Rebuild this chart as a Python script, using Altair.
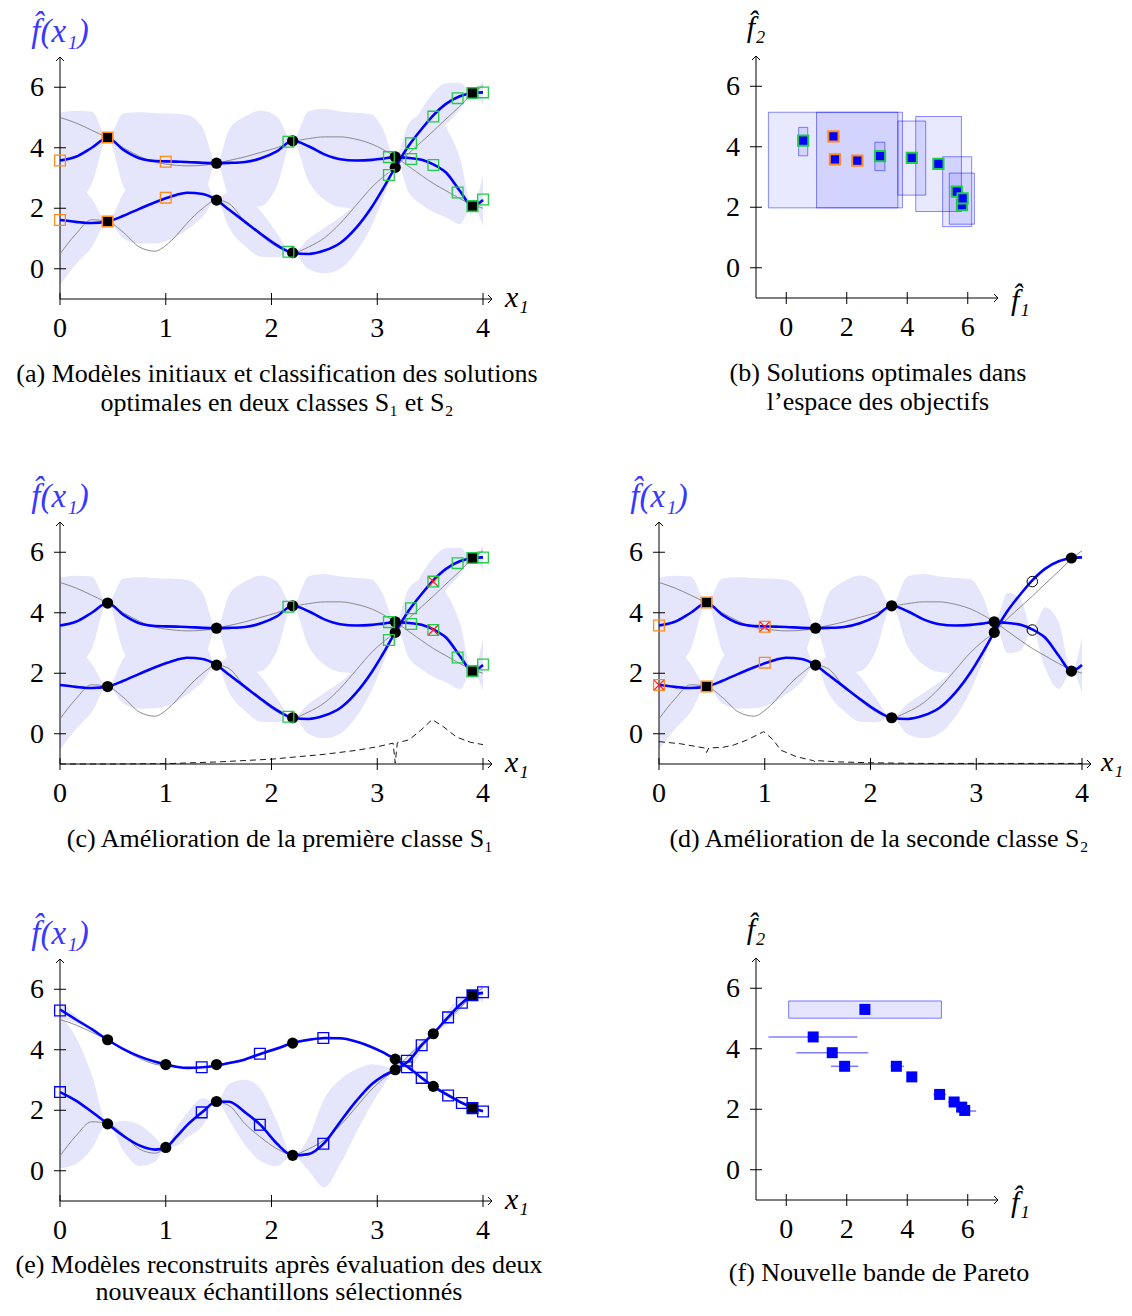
import altair as alt
import pandas as pd

# ---------------- data ----------------
X_GRID = [0.0, 0.15, 0.3, 0.45, 0.6, 0.75, 0.9, 1.0, 1.1, 1.2, 1.35, 1.48, 1.6, 1.75, 1.9, 2.05,
          2.2, 2.35, 2.5, 2.65, 2.8, 2.95, 3.05, 3.17, 3.3, 3.42, 3.53, 3.65, 3.78, 3.9, 4.0]
TRUE_F1 = [0.49, 1.15, 1.62, 1.56, 1.2, 0.72, 0.58, 0.77, 1.1, 1.5, 2.0, 2.27, 2.15, 1.55, 1.1, 0.73,
           0.53, 0.72, 1.02, 1.5, 2.1, 2.7, 3.02, 3.35, 3.82, 4.2, 4.55, 4.95, 5.37, 5.78, 6.05]
TRUE_F2 = [5.0, 4.82, 4.58, 4.32, 4.0, 3.72, 3.52, 3.46, 3.42, 3.40, 3.42, 3.49, 3.58, 3.70, 3.85, 4.0,
           4.2, 4.3, 4.36, 4.36, 4.28, 4.12, 3.95, 3.70, 3.38, 3.08, 2.82, 2.58, 2.32, 2.12, 2.0]

MEAN_F1_A = [1.61, 1.55, 1.51, 1.56, 1.75, 1.98, 2.20, 2.33, 2.44, 2.51, 2.47, 2.27, 1.95, 1.55, 1.15, 0.78,
             0.53, 0.49, 0.60, 0.85, 1.35, 2.05, 2.62, 3.35, 4.08, 4.62, 5.07, 5.45, 5.70, 5.81, 5.83]
MEAN_F2_A = [3.58, 3.70, 4.00, 4.32, 3.93, 3.65, 3.56, 3.55, 3.54, 3.53, 3.50, 3.49, 3.50, 3.53, 3.65, 3.88,
             4.23, 4.05, 3.78, 3.62, 3.58, 3.60, 3.64, 3.69, 3.66, 3.60, 3.45, 3.18, 2.58, 2.07, 2.27]
HALF_F1_A = [2.14, 1.4, 0.8, 0.0, 0.75, 1.15, 1.36, 1.42, 1.38, 1.22, 0.75, 0.0, 0.6, 0.8, 0.75, 0.4,
             0.0, 0.5, 0.75, 0.85, 0.8, 0.6, 0.35, 0.0, 0.42, 0.65, 0.75, 0.68, 0.45, 0.0, 0.41]
HALF_F2_A = [1.58, 1.52, 1.2, 0.0, 1.2, 1.52, 1.58, 1.58, 1.58, 1.55, 1.15, 0.0, 1.1, 1.5, 1.58, 1.15,
             0.0, 1.15, 1.5, 1.58, 1.58, 1.5, 1.0, 0.0, 1.15, 1.48, 1.57, 1.48, 1.1, 0.0, 0.85]
HALF_F1_D = [2.14, 1.4, 0.8, 0.0, 0.75, 1.15, 1.36, 1.42, 1.38, 1.22, 0.75, 0.0, 0.6, 0.8, 0.75, 0.4,
             0.0, 0.5, 0.75, 0.85, 0.8, 0.6, 0.35, 0.0, 0.0, 0.0, 0.0, 0.0, 0.0, 0.0, 0.0]
HALF_F2_D = [1.58, 1.52, 1.2, 0.0, 1.2, 1.52, 1.58, 1.58, 1.58, 1.55, 1.15, 0.0, 1.1, 1.5, 1.58, 1.15,
             0.0, 1.15, 1.5, 1.58, 1.58, 1.5, 1.0, 0.0, 1.0, 0.85, 0.0, 1.0, 1.1, 0.0, 0.9]

MEAN_F1_E = [2.60, 2.32, 1.95, 1.55, 1.15, 0.84, 0.70, 0.77, 1.12, 1.50, 1.95, 2.29, 2.28, 1.93, 1.50, 0.90,
             0.51, 0.55, 0.92, 1.62, 2.30, 2.87, 3.12, 3.34, 3.64, 4.15, 4.53, 5.0, 5.48, 5.80, 5.88]
MEAN_F2_E = [5.33, 5.0, 4.68, 4.33, 4.02, 3.78, 3.60, 3.51, 3.44, 3.40, 3.42, 3.48, 3.56, 3.68, 3.87, 4.04,
             4.22, 4.33, 4.39, 4.38, 4.27, 4.08, 3.92, 3.68, 3.40, 3.07, 2.79, 2.53, 2.28, 2.07, 1.97]
HALF_F1_E = [2.52, 2.1, 1.23, 0.0, 0.5, 0.68, 0.4, 0.0, 0.3, 0.4, 0.45, 0.0, 0.6, 1.08, 1.19, 0.75,
             0.0, 0.55, 1.47, 1.4, 1.05, 0.65, 0.35, 0.0, 0.22, 0.2, 0.0, 0.21, 0.2, 0.0, 0.33]
HALF_F2_E = [0.29, 0.12, 0.04, 0.0, 0.0, 0.0, 0.0, 0.0, 0.0, 0.0, 0.0, 0.0, 0.0, 0.0, 0.0, 0.0,
             0.0, 0.0, 0.0, 0.0, 0.0, 0.0, 0.0, 0.0, 0.0, 0.0, 0.0, 0.0, 0.0, 0.0, 0.0]

TRAIN_X_A = [0.45, 1.48, 2.2, 3.17, 3.9]
TRAIN_F1_A = [1.56, 2.27, 0.53, 3.35, 5.81]
TRAIN_F2_A = [4.32, 3.49, 4.23, 3.70, 2.07]

TRAIN_X_E = [0.45, 1.0, 1.48, 2.2, 3.17, 3.53, 3.9]
TRAIN_F1_E = [1.55, 0.77, 2.29, 0.51, 3.34, 4.53, 5.80]
TRAIN_F2_E = [4.33, 3.51, 3.51, 4.22, 3.69, 2.79, 2.07]

OPT_X_A = [0.0, 0.45, 1.0, 2.16, 3.11, 3.32, 3.53, 3.76, 3.9, 4.0]
OPT_CLASS_A = ["S1", "S1", "S1", "S2", "S2", "S2", "S2", "S2", "S2", "S2"]
OPT_F1_A = [1.61, 1.56, 2.35, 0.56, 3.10, 4.15, 5.03, 5.64, 5.81, 5.83]
OPT_F2_A = [3.58, 4.34, 3.54, 4.20, 3.69, 3.63, 3.43, 2.52, 2.07, 2.29]
BOX_F1_LO_A = [-0.59, None, 1.0, 0.41, 2.93, 3.69, 4.28, 5.17, None, 5.39]
BOX_F1_HI_A = [3.69, None, 3.84, 0.71, 3.26, 4.61, 5.79, 6.13, None, 6.22]
BOX_F2_LO_A = [1.98, None, 1.98, 3.70, 3.21, 2.40, 1.86, 1.36, None, 1.44]
BOX_F2_HI_A = [5.14, None, 5.14, 4.64, 4.15, 4.85, 5.0, 3.67, None, 3.13]

CROSS_X_C = [3.53, 3.53]
CROSS_Y_C = [5.03, 3.43]
CROSS_X_D = [0.0, 1.0]
CROSS_Y_D = [1.61, 3.54]
NEW_X_D = [3.53, 3.53]
NEW_Y_D = [5.03, 3.43]

ACQ_C_X = [0.0, 0.5, 1.0, 1.5, 2.0, 2.5, 2.8, 3.0, 3.15, 3.17, 3.19, 3.3, 3.41, 3.52, 3.63, 3.75, 3.88, 4.0]
ACQ_C_Y = [-1.0, -1.0, -0.99, -0.93, -0.84, -0.68, -0.55, -0.43, -0.31, -0.97, -0.3, -0.2, 0.11, 0.47,
           0.22, -0.11, -0.28, -0.36]
ACQ_D_X = [0.0, 0.2, 0.43, 0.45, 0.47, 0.6, 0.7, 0.83, 0.99, 1.08, 1.15, 1.3, 1.46, 1.48, 1.5, 1.7,
           2.0, 2.5, 3.0, 3.5, 4.0]
ACQ_D_Y = [-0.26, -0.33, -0.47, -0.62, -0.47, -0.45, -0.38, -0.21, 0.07, -0.2, -0.54, -0.76, -0.89,
           -0.95, -0.89, -0.93, -0.96, -0.98, -0.98, -0.98, -0.98]

OPT_X_E = [0.0, 1.34, 1.89, 2.49, 3.28, 3.42, 3.67, 3.80, 3.9, 4.0]
OPT_F1_E = [2.60, 1.93, 1.52, 0.89, 3.64, 4.15, 5.07, 5.55, 5.80, 5.90]
OPT_F2_E = [5.30, 3.42, 3.87, 4.39, 3.42, 3.07, 2.49, 2.24, 2.07, 1.96]
INT_F1_LO_E = [0.08, 1.48, 0.33, -0.59, 3.45, None, 4.86, 5.35, None, 5.61]
INT_F1_HI_E = [5.13, 2.38, 2.71, 2.35, 3.89, None, 5.28, 5.75, None, 6.28]
INT_F2_LO_E = [5.01, 3.42, 3.87, 4.39, 3.42, None, 2.49, 2.24, None, 1.94]
INT_F2_HI_E = [5.58, 3.42, 3.87, 4.39, 3.42, None, 2.49, 2.24, None, 1.94]

X_TICKS_C = [0, 1, 2, 3, 4]
TICKS_O = [0, 2, 4, 6]
Y_TICKS = [0, 2, 4, 6]

CAP_A = ["(a) Modèles initiaux et classification des solutions", "optimales en deux classes S₁ et S₂"]
CAP_B = ["(b) Solutions optimales dans", "l’espace des objectifs"]
CAP_C = ["(c) Amélioration de la première classe S₁"]
CAP_D = ["(d) Amélioration de la seconde classe S₂"]
CAP_E = ["(e) Modèles reconstruits après évaluation des deux", "nouveaux échantillons sélectionnés"]
CAP_F = ["(f) Nouvelle bande de Pareto"]

# ---------------- styles / layout ----------------
SERIF = "Liberation Serif"
BAND = "#e5e5fb"
BLUE = "#0000ff"
GRAY = "#808080"
ORANGE = "#ff8a1d"
GREEN = "#22cc4a"
RED = "#ff2020"
LABEL_BLUE = "#3838ff"
CLASS_COLOR = {"S1": ORANGE, "S2": GREEN}
XDOM_C = [0, 4.085]
XDOM_O = [-1, 7]
YDOM = [-1, 7]
W_C, W_O, H = 432, 242, 242
TICK_FS = 28
CAP_FS = 26
MARGIN = 8
F_HAT = "f\u0302(x\u2081)"


class Panel:
    def __init__(self, left, top, xdom, w):
        self.L = left - MARGIN
        self.T = top - MARGIN
        self.w = w
        self.h = H
        self.xdom = xdom
        self.xs = alt.Scale(domain=xdom, range=[self.L, self.L + w], nice=False, zero=False)
        self.ys = alt.Scale(domain=YDOM, range=[self.T + H, self.T], nice=False, zero=False)

    def X(self, f):
        return alt.X(f, type="quantitative", scale=self.xs, axis=None)

    def Y(self, f):
        return alt.Y(f, type="quantitative", scale=self.ys, axis=None)


def one():
    return alt.Data(values=[{"k": 0}])


def text(t, x, y, size, align="center", baseline="alphabetic", color="black", style="normal"):
    return alt.Chart(one()).mark_text(text=t, font=SERIF, fontSize=size, fontStyle=style, color=color,
                                      align=align, baseline=baseline).encode(
        x=alt.value(x), y=alt.value(y))


def frame(p, xticks):
    L, T, w, h = p.L, p.T, p.w, p.h
    xa = alt.Chart(pd.DataFrame({"a": [p.xdom[0]], "b": [p.xdom[1]], "y": [YDOM[0]]})).mark_rule(
        color="black", strokeWidth=1).encode(x=p.X("a"), x2=alt.X2("b"), y=p.Y("y"))
    ya = alt.Chart(pd.DataFrame({"x": [p.xdom[0]], "a": [YDOM[0]], "b": [YDOM[1]]})).mark_rule(
        color="black", strokeWidth=1).encode(x=p.X("x"), y=p.Y("a"), y2=alt.Y2("b"))
    xt_df = pd.DataFrame({"v": xticks})
    yt_df = pd.DataFrame({"v": Y_TICKS})
    xt = alt.Chart(xt_df).mark_rule(color="black", strokeWidth=1).encode(
        x=p.X("v"), y=alt.value(T + h - 6), y2=alt.value(T + h + 6))
    yt = alt.Chart(yt_df).mark_rule(color="black", strokeWidth=1).encode(
        y=p.Y("v"), x=alt.value(L - 6), x2=alt.value(L + 6))
    xl = alt.Chart(xt_df).mark_text(font=SERIF, fontSize=TICK_FS, color="black", align="center",
                                    baseline="alphabetic").encode(
        x=p.X("v"), y=alt.value(T + h + 38), text=alt.Text("v:Q", format="d"))
    yl = alt.Chart(yt_df).mark_text(font=SERIF, fontSize=TICK_FS, color="black", align="right",
                                    baseline="alphabetic", dy=9).encode(
        y=p.Y("v"), x=alt.value(L - 16), text=alt.Text("v:Q", format="d"))
    ax = alt.Chart(pd.DataFrame({"x": [p.xdom[1]], "y": [YDOM[0]]})).mark_point(
        shape="M-1,-1L0,0L-1,1", size=64, filled=False, color="black", strokeWidth=1, opacity=1).encode(
        x=p.X("x"), y=p.Y("y"))
    ay = alt.Chart(pd.DataFrame({"x": [p.xdom[0]], "y": [YDOM[1]]})).mark_point(
        shape="M-1,1L0,0L1,1", size=64, filled=False, color="black", strokeWidth=1, opacity=1).encode(
        x=p.X("x"), y=p.Y("y"))
    return [xa, ya, xt, yt, xl, yl, ax, ay]


def captions(p, lines, cx, first=83, step=29):
    return [text(line, p.L + cx, p.T + p.h + first + step * i, CAP_FS) for i, line in enumerate(lines)]


def curve_panel(p, mean1, mean2, half1, half2, dots, hollow, filled, crosses=None, rings=None,
                acq=None, caption=(), cap_x=217, cap_first=83, cap_step=29, xlab_dx=13, xlab_fs=30):
    df = pd.DataFrame({"x": X_GRID, "t1": TRUE_F1, "t2": TRUE_F2, "m1": mean1, "m2": mean2,
                       "h1": half1, "h2": half2})
    df["lo1"] = df["m1"] - df["h1"]
    df["hi1"] = df["m1"] + df["h1"]
    df["lo2"] = df["m2"] - df["h2"]
    df["hi2"] = df["m2"] + df["h2"]
    base = alt.Chart(df)
    layers = []
    for lo, hi in (("lo2", "hi2"), ("lo1", "hi1")):
        layers.append(base.mark_area(color=BAND, opacity=1, interpolate="monotone").encode(
            x=p.X("x"), y=p.Y(lo), y2=alt.Y2(hi)))
    layers += frame(p, X_TICKS_C)
    for f in ("t1", "t2"):
        layers.append(base.mark_line(color=GRAY, strokeWidth=0.9, interpolate="monotone").encode(
            x=p.X("x"), y=p.Y(f)))
    for f in ("m1", "m2"):
        layers.append(base.mark_line(color=BLUE, strokeWidth=2.6, interpolate="monotone").encode(
            x=p.X("x"), y=p.Y(f)))
    if acq is not None:
        layers.append(alt.Chart(pd.DataFrame({"x": acq[0], "y": acq[1]})).mark_line(
            color="black", strokeWidth=0.9, strokeDash=[6, 4]).encode(x=p.X("x"), y=p.Y("y")))
    if len(dots):
        layers.append(alt.Chart(pd.DataFrame(dots, columns=["x", "y"])).mark_circle(
            size=125, color="black", opacity=1).encode(x=p.X("x"), y=p.Y("y")))
    if len(hollow):
        layers.append(alt.Chart(pd.DataFrame(hollow, columns=["x", "y", "c"])).mark_point(
            shape="square", size=115, filled=False, strokeWidth=1.3, opacity=1).encode(
            x=p.X("x"), y=p.Y("y"), color=alt.Color("c:N", scale=None)))
    if len(filled):
        layers.append(alt.Chart(pd.DataFrame(filled, columns=["x", "y", "c"])).mark_point(
            shape="square", size=110, filled=True, fill="black", strokeWidth=1.6, opacity=1).encode(
            x=p.X("x"), y=p.Y("y"), stroke=alt.Stroke("c:N", scale=None)))
    if crosses is not None:
        layers.append(alt.Chart(pd.DataFrame({"x": crosses[0], "y": crosses[1]})).mark_point(
            shape="M-1,-1L1,1M-1,1L1,-1", size=90, filled=False, color=RED, strokeWidth=1.2,
            opacity=1).encode(x=p.X("x"), y=p.Y("y")))
    if rings is not None:
        layers.append(alt.Chart(pd.DataFrame({"x": rings[0], "y": rings[1]})).mark_point(
            shape="circle", size=110, filled=False, color="black", strokeWidth=1, opacity=1).encode(
            x=p.X("x"), y=p.Y("y")))
    layers.append(text(F_HAT, p.L, p.T - 15, 33, color=LABEL_BLUE, style="italic"))
    layers.append(text("x\u2081", p.L + p.w + xlab_dx, p.T + p.h - 1, xlab_fs, align="left",
                       baseline="middle", style="italic"))
    layers += captions(p, caption, cap_x, cap_first, cap_step)
    return alt.layer(*layers)


def objective_labels(p):
    return [text("f\u0302\u2082", p.L, p.T - 19, 30, style="italic"),
            text("f\u0302\u2081", p.L + p.w + 13, p.T + p.h + 3, 30, align="left", baseline="middle",
                 style="italic")]


# ---------------- markers per panel ----------------
def pairs(xs, a, b):
    out = []
    for x, u, v in zip(xs, a, b):
        out += [(x, u), (x, v)]
    return out


opt_rows = list(zip(OPT_X_A, OPT_CLASS_A, OPT_F1_A, OPT_F2_A))


def opt_marks(classes, train_x):
    hollow, filled = [], []
    for x, c, f1, f2 in opt_rows:
        if c not in classes:
            continue
        target = filled if x in train_x else hollow
        target += [(x, f1, CLASS_COLOR[c]), (x, f2, CLASS_COLOR[c])]
    return hollow, filled


def dots_excluding(train_x, f1, f2, excl):
    return [q for q in pairs(train_x, f1, f2) if q[0] not in excl]


PA = Panel(60, 57, XDOM_C, W_C)
PB = Panel(756, 56, XDOM_O, W_O)
PC = Panel(60, 522, XDOM_C, W_C)
PD = Panel(659, 522, XDOM_C, W_C)
PE = Panel(60, 959, XDOM_C, W_C)
PF = Panel(756, 958, XDOM_O, W_O)

hol_a, fil_a = opt_marks({"S1", "S2"}, TRAIN_X_A)
panel_a = curve_panel(PA, MEAN_F1_A, MEAN_F2_A, HALF_F1_A, HALF_F2_A,
                      dots_excluding(TRAIN_X_A, TRAIN_F1_A, TRAIN_F2_A, {0.45, 3.9}), hol_a, fil_a,
                      caption=CAP_A, cap_x=217)

hol_c, fil_c = opt_marks({"S2"}, TRAIN_X_A)
panel_c = curve_panel(PC, MEAN_F1_A, MEAN_F2_A, HALF_F1_A, HALF_F2_A,
                      dots_excluding(TRAIN_X_A, TRAIN_F1_A, TRAIN_F2_A, {3.9}), hol_c, fil_c,
                      crosses=(CROSS_X_C, CROSS_Y_C), acq=(ACQ_C_X, ACQ_C_Y), caption=CAP_C, cap_x=220)

hol_d, fil_d = opt_marks({"S1"}, TRAIN_X_A)
panel_d = curve_panel(PD, MEAN_F1_A, MEAN_F2_A, HALF_F1_D, HALF_F2_D,
                      dots_excluding(TRAIN_X_A, TRAIN_F1_A, TRAIN_F2_A, {0.45}), hol_d, fil_d,
                      crosses=(CROSS_X_D, CROSS_Y_D), rings=(NEW_X_D, NEW_Y_D),
                      acq=(ACQ_D_X, ACQ_D_Y), caption=CAP_D, cap_x=220, xlab_dx=10, xlab_fs=28)

hol_e, fil_e = [], []
for xv, f1v, f2v in zip(OPT_X_E, OPT_F1_E, OPT_F2_E):
    tgt = fil_e if xv in TRAIN_X_E else hol_e
    tgt += [(xv, f1v, BLUE), (xv, f2v, BLUE)]
panel_e = curve_panel(PE, MEAN_F1_E, MEAN_F2_E, HALF_F1_E, HALF_F2_E,
                      dots_excluding(TRAIN_X_E, TRAIN_F1_E, TRAIN_F2_E, {3.9}), hol_e, fil_e,
                      caption=CAP_E, cap_x=219, cap_first=72, cap_step=27)

# (b)
box_b = pd.DataFrame({"lo1": BOX_F1_LO_A, "hi1": BOX_F1_HI_A, "lo2": BOX_F2_LO_A,
                      "hi2": BOX_F2_HI_A}).dropna()
pts_b = pd.DataFrame({"x": OPT_F1_A, "y": OPT_F2_A, "c": [CLASS_COLOR[c] for c in OPT_CLASS_A]})
panel_b = alt.layer(*(
    [alt.Chart(box_b).mark_rect(fill=BLUE, fillOpacity=0.09, stroke=BLUE, strokeOpacity=0.45,
                                strokeWidth=1).encode(
        x=PB.X("lo1"), x2=alt.X2("hi1"), y=PB.Y("lo2"), y2=alt.Y2("hi2"))]
    + frame(PB, TICKS_O)
    + [alt.Chart(pts_b).mark_square(size=105, fill=BLUE, strokeWidth=2, opacity=1).encode(
        x=PB.X("x"), y=PB.Y("y"), stroke=alt.Stroke("c:N", scale=None))]
    + objective_labels(PB) + captions(PB, CAP_B, 122)))

# (f)
int_f = pd.DataFrame({"lo1": INT_F1_LO_E, "hi1": INT_F1_HI_E, "lo2": INT_F2_LO_E,
                      "hi2": INT_F2_HI_E}).dropna()
rect_f = int_f[int_f["hi2"] > int_f["lo2"]]
rule_f = int_f[int_f["hi2"] <= int_f["lo2"]]
pts_f = pd.DataFrame({"x": OPT_F1_E, "y": OPT_F2_E})
panel_f = alt.layer(*(
    [alt.Chart(rect_f).mark_rect(fill=BLUE, fillOpacity=0.1, stroke=BLUE, strokeOpacity=0.5,
                                 strokeWidth=1).encode(
        x=PF.X("lo1"), x2=alt.X2("hi1"), y=PF.Y("lo2"), y2=alt.Y2("hi2")),
     alt.Chart(rule_f).mark_rule(color=BLUE, opacity=0.5, strokeWidth=1.6).encode(
        x=PF.X("lo1"), x2=alt.X2("hi1"), y=PF.Y("lo2"))]
    + frame(PF, TICKS_O)
    + [alt.Chart(pts_f).mark_square(size=121, color=BLUE, opacity=1).encode(x=PF.X("x"), y=PF.Y("y"))]
    + objective_labels(PF) + captions(PF, CAP_F, 123, first=81)))

chart = alt.layer(panel_a, panel_b, panel_c, panel_d, panel_e, panel_f).resolve_scale(
    x="independent", y="independent").properties(
    width=1116, height=1298, padding=0, autosize=alt.AutoSizeParams(type="none")
).configure_view(stroke=None)

chart.save("out.html", embed_options={"renderer": "svg", "actions": False})
